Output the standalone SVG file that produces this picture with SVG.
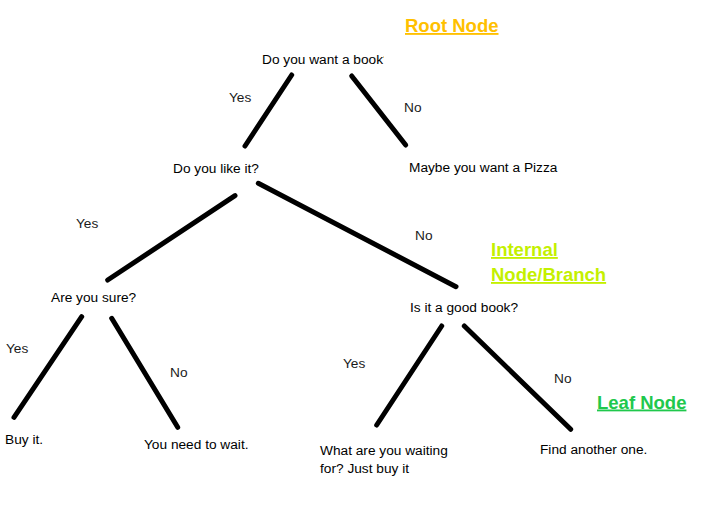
<svg xmlns="http://www.w3.org/2000/svg" width="719" height="515" viewBox="0 0 719 515">
<style>
  text { font-family: "Liberation Sans", Arial, sans-serif; font-size: 13.7px; fill: #000; }
  .edge { stroke: #000; stroke-width: 5; stroke-linecap: round; fill: none; }
  .lbl { fill: #1a1a1a; }
  .note { font-weight: bold; font-size: 18.5px; text-decoration: underline; }
</style>
<defs>
  <clipPath id="clipRoot"><rect x="250" y="40" width="134" height="40"/></clipPath>
</defs>
<rect width="719" height="515" fill="#fff"/>
<g id="connectors">
  <line class="edge" x1="291.7" y1="75" x2="245" y2="146"/>
  <line class="edge" x1="351.7" y1="76" x2="405.7" y2="145"/>
  <line class="edge" x1="235" y1="195.7" x2="107.7" y2="280"/>
  <line class="edge" x1="258.3" y1="183.3" x2="456" y2="286.7"/>
  <line class="edge" x1="81.7" y1="316.7" x2="14" y2="417.3"/>
  <line class="edge" x1="111.7" y1="318.3" x2="177.7" y2="427.3"/>
  <line class="edge" x1="441.7" y1="326" x2="376.7" y2="425"/>
  <line class="edge" x1="464.3" y1="326" x2="570.7" y2="429.3"/>
  <text class="lbl" x="229" y="102">Yes</text>
  <text class="lbl" x="404" y="112">No</text>
  <text class="lbl" x="76" y="228">Yes</text>
  <text class="lbl" x="415" y="240">No</text>
  <text class="lbl" x="6" y="353">Yes</text>
  <text class="lbl" x="170" y="377">No</text>
  <text class="lbl" x="343" y="367.5">Yes</text>
  <text class="lbl" x="554" y="383">No</text>
</g>
<g id="n-root"><text x="262" y="64" clip-path="url(#clipRoot)">Do you want a book?</text></g>
<g id="n-like"><text x="173" y="172.5">Do you like it?</text></g>
<g id="n-pizza"><text x="409" y="172">Maybe you want a Pizza</text></g>
<g id="n-sure"><text x="51" y="302">Are you sure?</text></g>
<g id="n-good"><text x="410" y="312">Is it a good book?</text></g>
<g id="n-buy"><text x="5" y="443.5">Buy it.</text></g>
<g id="n-wait"><text x="144" y="448.5">You need to wait.</text></g>
<g id="n-waiting"><text x="320" y="455">What are you waiting</text><text x="320" y="473">for? Just buy it</text></g>
<g id="n-find"><text x="540" y="453.5">Find another one.</text></g>
<g id="annotations">
  <text class="note" x="405" y="32" style="fill:#FFC000">Root Node</text>
  <text class="note" x="491" y="256" style="fill:#C4F000">Internal</text>
  <text class="note" x="491" y="281" style="fill:#C4F000">Node/Branch</text>
  <text class="note" x="597" y="408.5" style="fill:#20C84C">Leaf Node</text>
</g>
</svg>
